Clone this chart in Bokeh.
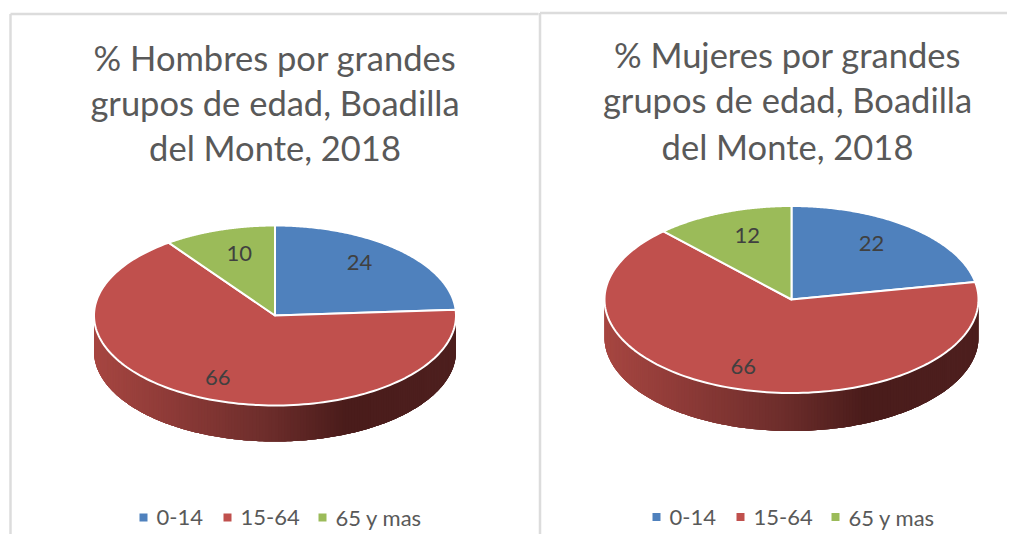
import numpy as np
from bokeh.embed import file_html
from bokeh.models import ColumnDataSource, Range1d
from bokeh.plotting import figure
from bokeh.resources import INLINE
from bokeh.core.properties import value

# ---- data ----
categories = ["0-14", "15-64", "65 y mas"]
hombres = [24, 66, 10]
mujeres = [22, 66, 12]
title_hombres = ["% Hombres por grandes", "grupos de edad, Boadilla", "del Monte, 2018"]
title_mujeres = ["% Mujeres por grandes", "grupos de edad, Boadilla", "del Monte, 2018"]

# ---- style ----
colors = ["#4F81BD", "#C0504D", "#9BBB59"]
FONT = "Lato"
grad_x = [0.0, 0.25, 0.5, 0.72, 1.0]
grad_c = [(0xA8, 0x47, 0x42), (0x8C, 0x3A, 0x37), (0x6E, 0x2E, 0x2C), (0x4A, 0x1C, 0x1B), (0x4E, 0x20, 0x1F)]

W, H = 1007, 534
p = figure(width=W, height=H, output_backend="svg", toolbar_location=None,
           x_range=Range1d(0, W), y_range=Range1d(H, 0),
           min_border=0, background_fill_color="white", border_fill_color="white")
p.axis.visible = False
p.grid.visible = False
p.outline_line_color = None

BORDER = "#DCDCDC"
p.segment(x0=[10, 10, 539.5, 539.5], y0=[13.5, 13.5, 12.5, 12.5],
          x1=[10, 538, 539.5, W], y1=[H, 13.5, H, 12.5],
          line_color=BORDER, line_width=2.5)


def pt(cx, cy, rx, ry, t):
    return cx + rx * np.sin(t), cy - ry * np.cos(t)


def pie(vals, cx, cy, rx, ry, depth, title, title_y, title_cx, nudges, legend_x, legend_y):
    total = sum(vals)
    # side wall, front half only: strips overlap so that no seams show
    ts = np.linspace(np.pi / 2, 3 * np.pi / 2, 181)
    step = ts[1] - ts[0]
    xs, ys, cols = [], [], []
    for a in ts[:-1]:
        arc = np.linspace(a, min(a + 4 * step, ts[-1]), 5)
        xa, ya = pt(cx, cy, rx, ry, arc)
        xs.append(np.r_[xa, xa[::-1]])
        ys.append(np.r_[ya, ya[::-1] + depth])
        f = (pt(cx, cy, rx, ry, a + step / 2)[0] - (cx - rx)) / (2 * rx)
        c = [int(np.interp(f, grad_x, [g[i] for g in grad_c])) for i in range(3)]
        cols.append("#%02x%02x%02x" % tuple(c))
    # paint from the right end towards the left and from the far ends to the middle is not
    # needed: each strip only has to lie under the next one
    order = list(range(len(xs)))[::-1]
    p.patches(xs=[xs[i] for i in order], ys=[ys[i] for i in order],
              fill_color=[cols[i] for i in order], line_color=None)
    # top face
    start = 0.0
    lab_x, lab_y = [], []
    for i, v in enumerate(vals):
        end = start + 2 * np.pi * v / total
        t = np.linspace(start, end, 150)
        x, y = pt(cx, cy, rx, ry, t)
        p.patch(np.r_[cx, x], np.r_[cy, y], fill_color=colors[i], line_color="white", line_width=2,
                line_join="round")
        lx, ly = pt(cx, cy, rx * 0.73, ry * 0.73, (start + end) / 2)
        lab_x.append(lx + nudges[i][0])
        lab_y.append(ly + nudges[i][1])
        start = end
    p.text(lab_x, lab_y, text=[str(v) for v in vals], text_font=value(FONT), text_font_size="22px",
           text_color="#404040", text_align="center", text_baseline="middle")
    # title
    p.text([title_cx] * 3, title_y, text=title, text_font=value(FONT), text_font_size="34.5px",
           text_color="#595959", text_align="center", text_baseline="middle")
    # legend
    p.scatter([x - 13 for x in legend_x], [legend_y] * 3, marker="square", size=8, color=colors, line_color=None)
    p.text(legend_x, [legend_y] * 3, text=categories, text_font=value(FONT), text_font_size="22px",
           text_color="#595959", text_align="left", text_baseline="middle")


pie(hombres, 274.5, 315, 181, 90, 36, title_hombres, [56.5, 101.5, 147], 274.5,
    [(-6, -5), (-1, 3), (5, 0)], [156, 240, 335], 517)
pie(mujeres, 791, 299, 187, 93.5, 38, title_mujeres, [53.5, 98.5, 146], 787,
    [(-7, -3), (-6, 2), (6, -1)], [669, 753, 848], 516.5)

open("out.html", "w").write(file_html(p, INLINE))
